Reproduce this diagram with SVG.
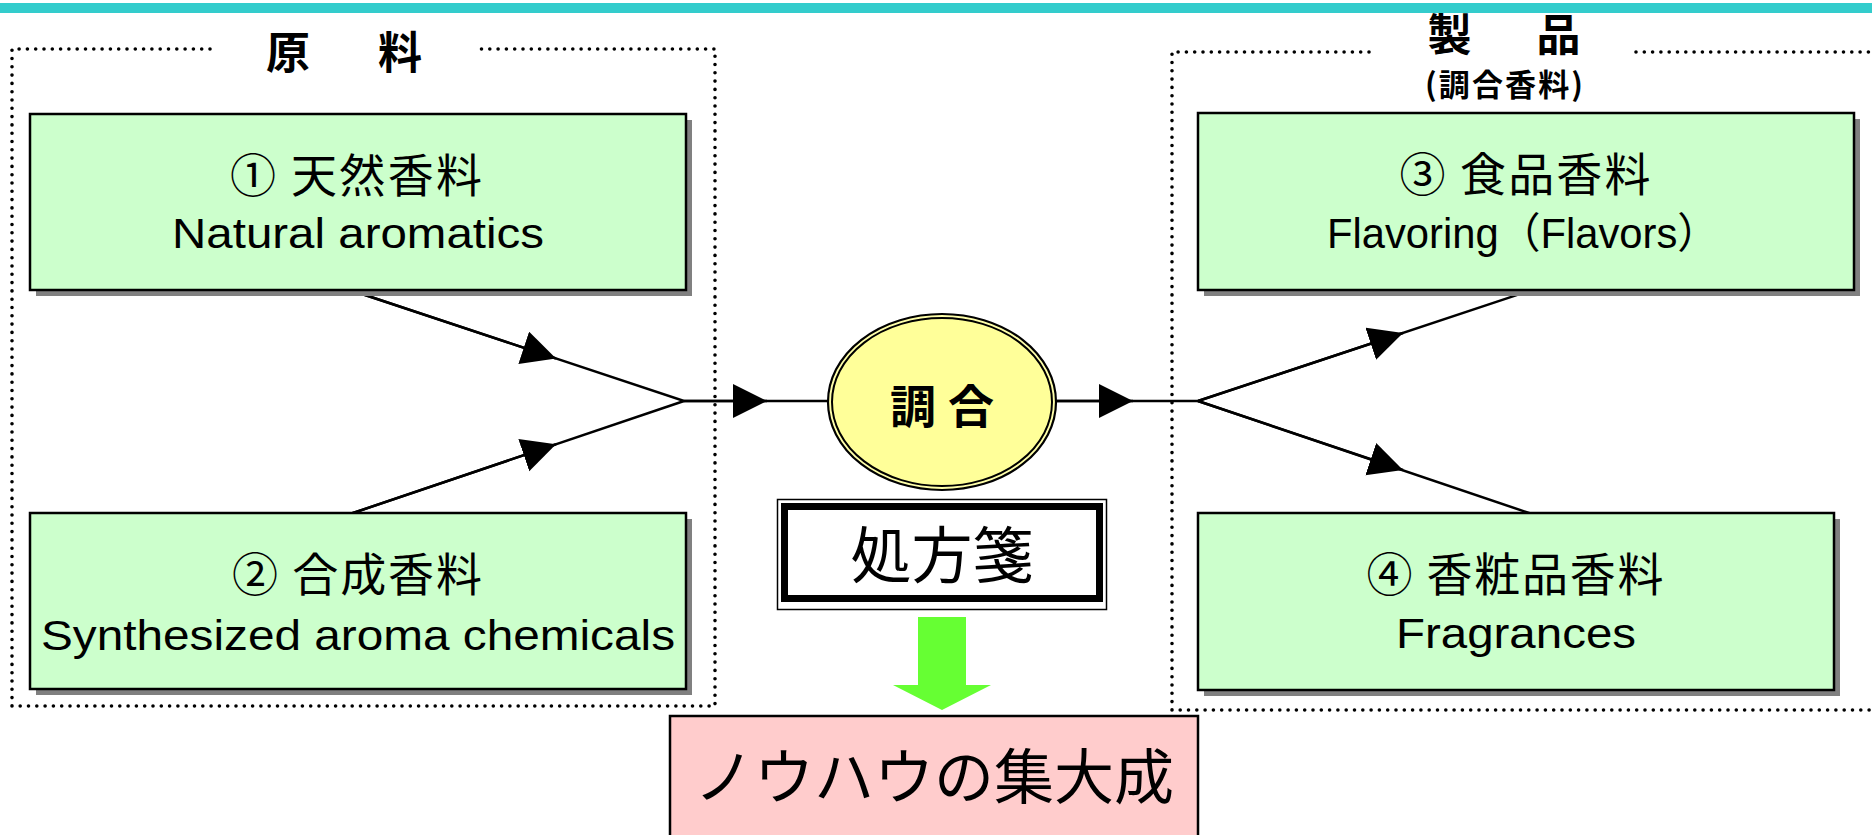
<svg xmlns="http://www.w3.org/2000/svg" width="1872" height="835" viewBox="0 0 1872 835">
<style>
.dot{fill:none;stroke:#000;stroke-width:3.6;stroke-dasharray:0 8.3;stroke-linecap:round}
.box{fill:#CCFFCC;stroke:#000;stroke-width:2.5}
.shadow{fill:#808080}
.jp{font-family:"Noto Sans CJK JP","Liberation Sans",sans-serif;fill:#000}
.en{font-family:"Liberation Sans","Noto Sans CJK JP",sans-serif;fill:#000}
.conn{fill:none;stroke:#000;stroke-width:2.5}
</style>
<defs>
<marker id="arr" markerUnits="userSpaceOnUse" markerWidth="36" markerHeight="36" refX="34" refY="17" orient="auto" viewBox="0 0 36 36">
<path d="M0,0 L34,17 L0,34 z" fill="#000"/>
</marker>
</defs>
<rect width="1872" height="835" fill="#fff"/>

<g id="group-raw">
<path class="dot" d="M210,49 H12 V706 H715 V49 H475"/>
<text class="jp" x="344" y="69" font-size="44" font-weight="bold" text-anchor="middle" textLength="156">原　料</text>
</g>
<g id="group-product">
<path class="dot" d="M1369,52 H1172 V710 H1880 M1636,52 H1880"/>
<text class="jp" x="1504" y="51" font-size="44" font-weight="bold" text-anchor="middle" textLength="153">製　品</text>
<text class="jp" x="1504" y="96" font-size="31" font-weight="bold" text-anchor="middle" textLength="158">(調合香料)</text>
</g>

<g id="connectors">
<path class="conn" d="M350,290 L684,401 L827,401"/>
<path class="conn" d="M350,514 L684,401"/>
<path class="conn" d="M350,290 L556,358.5" marker-end="url(#arr)"/>
<path class="conn" d="M350,514 L556,444.3" marker-end="url(#arr)"/>
<path class="conn" d="M684,401 L767,401" marker-end="url(#arr)"/>
<path class="conn" d="M1057,401 L1198,401 L1532,290"/>
<path class="conn" d="M1198,401 L1532,514"/>
<path class="conn" d="M1057,401 L1133,401" marker-end="url(#arr)"/>
<path class="conn" d="M1198,401 L1403,333" marker-end="url(#arr)"/>
<path class="conn" d="M1198,401 L1403,470" marker-end="url(#arr)"/>
</g>

<g id="node1">
<rect class="shadow" x="36" y="120" width="656" height="176"/>
<rect class="box" x="30" y="114" width="656" height="176"/>
<text class="jp" x="356" y="192" font-size="46" text-anchor="middle" textLength="252">① 天然香料</text>
<text class="en" x="358" y="248" font-size="42" text-anchor="middle" textLength="372" lengthAdjust="spacingAndGlyphs">Natural aromatics</text>
</g>
<g id="node2">
<rect class="shadow" x="36" y="519" width="656" height="176"/>
<rect class="box" x="30" y="513" width="656" height="176"/>
<text class="jp" x="357" y="591" font-size="46" text-anchor="middle" textLength="250">② 合成香料</text>
<text class="en" x="358" y="650" font-size="42" text-anchor="middle" textLength="634" lengthAdjust="spacingAndGlyphs">Synthesized aroma chemicals</text>
</g>
<g id="node3">
<rect class="shadow" x="1204" y="119" width="656" height="177"/>
<rect class="box" x="1198" y="113" width="656" height="177"/>
<text class="jp" x="1525" y="191" font-size="46" text-anchor="middle" textLength="251">③ 食品香料</text>
<text class="en" x="1523" y="248" font-size="42" text-anchor="middle" textLength="392" lengthAdjust="spacingAndGlyphs">Flavoring（Flavors）</text>
</g>
<g id="node4">
<rect class="shadow" x="1204" y="519" width="636" height="177"/>
<rect class="box" x="1198" y="513" width="636" height="177"/>
<text class="jp" x="1515" y="591" font-size="46" text-anchor="middle" textLength="297">④ 香粧品香料</text>
<text class="en" x="1516" y="648" font-size="42" text-anchor="middle" textLength="240" lengthAdjust="spacingAndGlyphs">Fragrances</text>
</g>

<g id="blend">
<ellipse cx="942" cy="402" rx="114" ry="88" fill="#FFFFAA" stroke="#000" stroke-width="2.2"/>
<ellipse cx="942" cy="402" rx="110" ry="84" fill="#FFFF99" stroke="#000" stroke-width="2"/>
<text class="jp" x="942" y="423" font-size="46" font-weight="bold" text-anchor="middle" textLength="104">調 合</text>
</g>

<g id="prescription">
<rect x="777.5" y="499.5" width="329" height="110" fill="#fff" stroke="#000" stroke-width="1.5"/>
<rect x="784.5" y="506.5" width="315" height="92" fill="#fff" stroke="#000" stroke-width="7"/>
<text class="jp" x="942" y="578" font-size="61" text-anchor="middle">処方箋</text>
</g>

<g id="down-arrow">
<path d="M918,617 H966 V685 H991 L942,710 L893,685 H918 Z" fill="#66FF33"/>
</g>

<g id="knowhow">
<rect x="670" y="716" width="528" height="140" fill="#FFCCCC" stroke="#000" stroke-width="2.5"/>
<text class="jp" x="934" y="799" font-size="60" text-anchor="middle">ノウハウの集大成</text>
</g>

<rect id="topbar" x="0" y="3" width="1872" height="10" fill="#33CCCC"/>
</svg>
